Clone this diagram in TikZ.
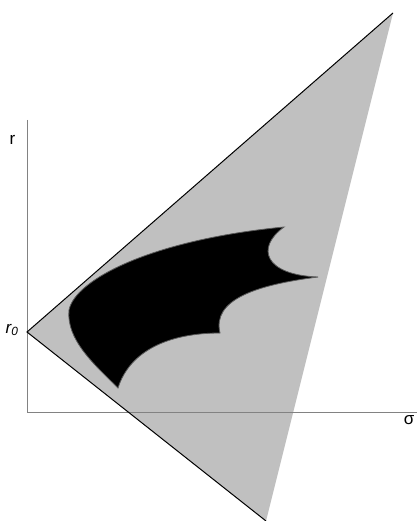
\documentclass[tikz,border=0pt]{standalone}
\usepackage{fontspec}
\setmainfont{Liberation Sans}
\usepackage{tikz}
\usetikzlibrary{positioning}

\definecolor{regiongray}{RGB}{192,192,192}
\definecolor{axisgray}{RGB}{130,130,130}
\definecolor{rimgray}{RGB}{90,90,90}

\tikzset{
  axisline/.style={draw=axisgray, line width=1pt},
  edgeline/.style={draw=black, line width=1pt},
  label/.style={inner sep=0pt, font=\fontsize{17}{20}\selectfont}
}

\begin{document}
\begin{tikzpicture}[x=1pt, y=-1pt]
\useasboundingbox (0,0) rectangle (418,521);

% points of the cone
\coordinate (O) at (27,412);
\coordinate (Ytop) at (27,120);
\coordinate (Xend) at (417,412);
\coordinate (R0) at (27,332);
\coordinate (Top) at (393,13);
\coordinate (Bot) at (266,521);

% reachable region
\fill[regiongray] (R0) -- (Top) -- (Bot) -- cycle;

% axes
\draw[axisline] (Ytop) -- (O) -- (Xend);

% boundary of the cone
\draw[edgeline] (Top) -- (R0) -- (Bot);

% black region
\draw[fill=black, draw=rimgray, line width=0.8pt]
  (118,388) .. controls (95,365) and (66,340) .. (69,310)
  .. controls (75,280) and (150,240) .. (284,227)
  .. controls (255,248) and (265,275) .. (318,277)
  .. controls (255,285) and (212,300) .. (220,333)
  .. controls (170,333) and (130,350) .. (118,388) -- cycle;

% labels
\node[label] (rlab) at (12.5,140) {r};
\node[label] (slab) at (409,420) {σ};
\node[label] (r0lab) at (12,330) {\itshape r\textsubscript{0}};
\end{tikzpicture}
\end{document}
